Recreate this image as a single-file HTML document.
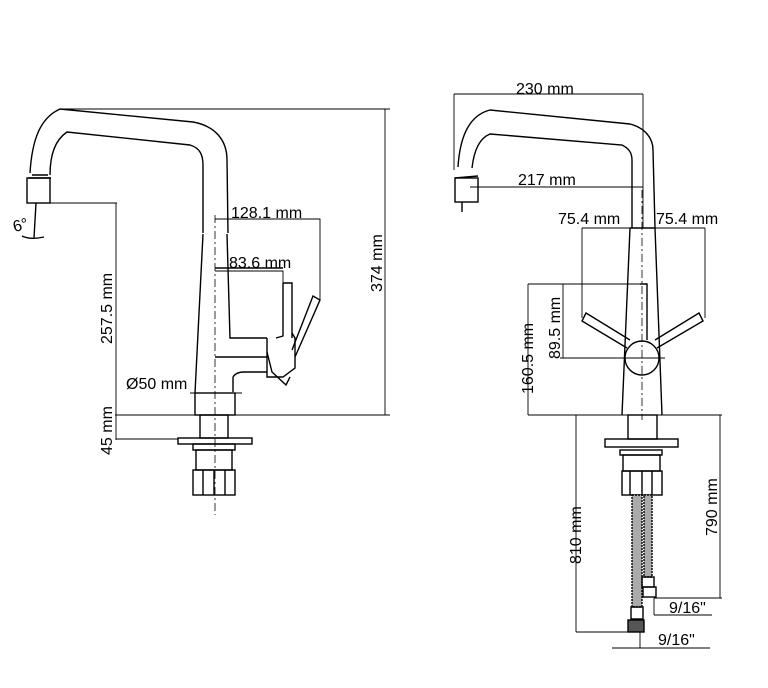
<!DOCTYPE html>
<html><head><style>
body{margin:0;background:#fff}
svg{display:block}
text{font-family:"Liberation Sans",Arial,sans-serif;font-size:16px;fill:#000}
</style></head><body>
<svg width="768" height="688" viewBox="0 0 768 688" xmlns="http://www.w3.org/2000/svg">
<g fill="none" stroke="#000" stroke-width="1.4">
<!-- LEFT FAUCET -->
<path d="M30,173 C32,140 40,118 60,109 L193,122 C215,126 227,140 227,160 L228,233"/>
<path d="M50,175 C50,155 55,140 67,132 L190,145 C200,148 203,155 203,165 L203,233"/>
<path d="M28,178 L51,178 M32,175 L48,175"/>
<rect x="27" y="178" width="23" height="25"/>
<path d="M36,203 L34,238 M22,236 Q30,240 44,237"/>
<path d="M203,234 L195,393 M227,234 L230,338 L267,338"/>
<path d="M283,283 L292,283 L292,338 M283,283 L283,336 L276,338"/>
<path d="M267,338 L267,377 L283,377 L295,368 L295,338 L292,333"/>
<path d="M295,357 L320,300 L313,296 L292,350"/>
<path d="M267,352 L272,372 L286,385 L290,377"/>
<path d="M215,268 L283,268"/>
<path d="M233,377 L233,392 M233,377 Q236,372 244,372 L267,372"/>
<path d="M215,357 L267,357"/>
<rect x="195" y="393" width="40" height="22"/>
<rect x="200" y="415" width="28" height="23"/>
<rect x="178" y="438" width="74" height="6"/>
<rect x="193" y="444" width="42" height="6"/>
<rect x="196" y="450" width="36" height="20"/>
<rect x="193" y="470" width="42" height="25"/>
<path d="M203,470 L203,495 M214,470 L214,495 M225,470 L225,495"/>
<!-- RIGHT FAUCET -->
<path d="M458,167 C460,135 470,115 490,110 L630,124 C645,128 653,138 653,150 L655,228"/>
<path d="M472,168 C474,150 480,138 490,134 L622,145 C628,148 632,152 632,160 L632,228"/>
<rect x="455" y="178" width="23" height="24"/>
<path d="M455,178 L478,176 M462,202 L462,212"/>
<path d="M630,228 L622,415 M655,228 L662,415 M630,228 L655,228"/>
<path d="M640,284 L647,284 L647,340"/>
<circle cx="642" cy="358" r="17"/>
<path d="M627,348 L582,321 L586,313 L630,340"/>
<path d="M657,348 L703,321 L699,313 L655,340"/>
<rect x="628" y="415" width="29" height="24"/>
<rect x="605" y="439" width="73" height="8"/>
<rect x="620" y="450" width="42" height="5"/>
<rect x="623" y="455" width="37" height="16"/>
<rect x="622" y="471" width="40" height="24"/>
<path d="M630,471 L630,495 M642,471 L642,495 M652,471 L652,495"/>
<rect x="632" y="495" width="10" height="112" fill="#aaa" stroke-dasharray="2,1"/>
<rect x="644" y="495" width="8" height="82" fill="#aaa" stroke-dasharray="2,1"/>
<rect x="642" y="577" width="12" height="10"/>
<rect x="643" y="587" width="13" height="10"/>
<rect x="631" y="607" width="12" height="12"/>
<rect x="628" y="620" width="16" height="12" fill="#555"/>
</g>
<g stroke="#000" stroke-width="0.8" stroke-dasharray="8,3,2,3" fill="none">
<path d="M215,215 L215,515"/>
<path d="M642,190 L642,420"/>
</g>
<g stroke="#000" stroke-width="0.9" fill="none">
<path d="M60,109 L390,109 M115,415 L390,415 M385,109 L385,415"/>
<path d="M45,203 L117,203 M116,203 L116,440 M116,439 L178,439"/>
<path d="M215,219 L320,219 L320,300"/>
<path d="M215,271 L283,271 L283,283"/>
<path d="M190,393 L242,393"/>
<path d="M454,94 L643,94 M454,94 L454,170 M643,94 L643,228"/>
<path d="M470,187 L643,187"/>
<path d="M582,228 L705,228 M582,228 L582,318 M705,228 L705,318"/>
<path d="M560,284 L647,284 M560,358 L665,358 M563,284 L563,358"/>
<path d="M528,284 L560,284 M528,284 L528,415 M528,415 L722,415"/>
<path d="M576,415 L628,415 M576,415 L576,632 M576,632 L640,632"/>
<path d="M720,415 L720,598 M654,598 L722,598"/>
<path d="M654,598 L654,615 M654,615 L712,615 M640,632 L640,648 M612,648 L710,648"/>
</g>
<text x="13" y="231" transform="rotate(-15 18 226)">6°</text>
<text x="231" y="218">128.1 mm</text>
<text x="229" y="268">83.6 mm</text>
<text x="126" y="389">Ø50 mm</text>
<text transform="translate(112,344) rotate(-90)">257.5 mm</text>
<text transform="translate(112,455) rotate(-90)">45 mm</text>
<text transform="translate(382,292) rotate(-90)">374 mm</text>
<text x="516" y="94">230 mm</text>
<text x="518" y="185">217 mm</text>
<text x="558" y="224">75.4 mm</text>
<text x="656" y="224">75.4 mm</text>
<text transform="translate(560,359) rotate(-90)">89.5 mm</text>
<text transform="translate(533,394) rotate(-90)">160.5 mm</text>
<text transform="translate(581,564) rotate(-90)">810 mm</text>
<text transform="translate(717,536) rotate(-90)">790 mm</text>
<text x="669" y="613">9/16"</text>
<text x="658" y="645">9/16"</text>
</svg>
</body></html>
